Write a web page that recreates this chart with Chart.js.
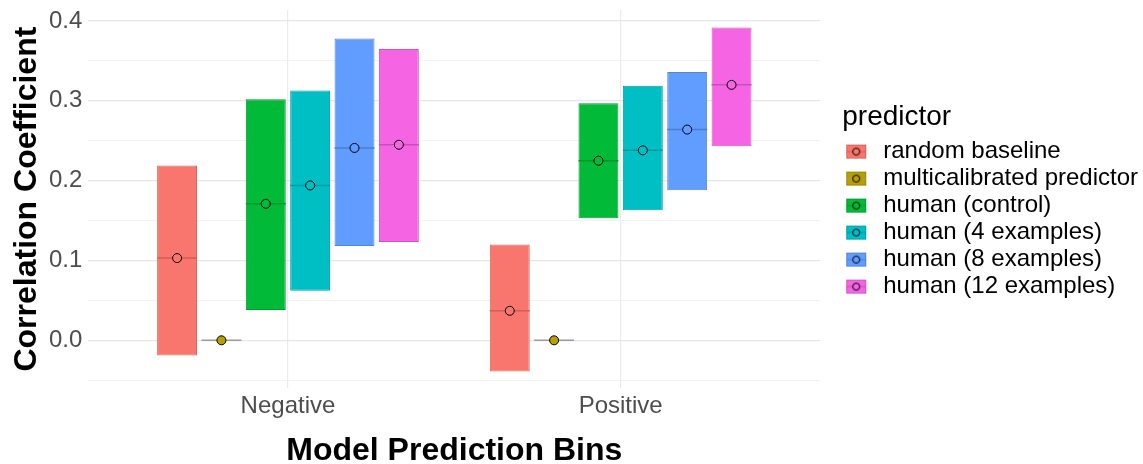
<!DOCTYPE html>
<html>
<head>
<meta charset="utf-8">
<script src="https://cdn.jsdelivr.net/npm/chart.js@4"></script>
<style>
  html, body { margin: 0; padding: 0; background: #fff; }
  #wrap { width: 1143px; height: 464px; }
</style>
</head>
<body>
<div id="wrap"><canvas id="myChart" width="1143" height="464"></canvas></div>
<script>
const categories = ['Negative', 'Positive'];
const predictors = ['random baseline', 'multicalibrated predictor', 'human (control)',
  'human (4 examples)', 'human (8 examples)', 'human (12 examples)'];

// per predictor, same order as above
const negLow  = [-0.019, 0, 0.038, 0.062, 0.118, 0.123];
const negMid  = [0.103, 0, 0.171, 0.194, 0.241, 0.245];
const negHigh = [0.219, 0, 0.302, 0.313, 0.378, 0.365];
const posLow  = [-0.039, 0, 0.153, 0.163, 0.188, 0.243];
const posMid  = [0.037, 0, 0.225, 0.238, 0.264, 0.320];
const posHigh = [0.120, 0, 0.297, 0.319, 0.336, 0.392];

const yTicks = [0.0, 0.1, 0.2, 0.3, 0.4];
const yMinorTicks = [-0.05, 0.05, 0.15, 0.25, 0.35];

const fills   = ['#F8766D', '#B79F00', '#00BA38', '#00BFC4', '#619CFF', '#F564E3'];
const borders = ['#D9635B', '#9C8700', '#009E30', '#00A2A6', '#5185DA', '#D154C2'];
const mids    = ['#CF5F58', '#9a9a9a', '#00962D', '#00999D', '#4E7ECF', '#C750B8'];

const FONT = "'Liberation Sans', Arial, Helvetica, sans-serif";
Chart.defaults.font.family = FONT;

const LEGEND_GAP = 38;   // extra room left of the legend
const LEGEND_SHIFT = 22; // how far the legend items sit right of the panel

const isMajor = (v) => yTicks.some(t => Math.abs(t - v) < 1e-6);

// little legend key: filled box + middle line + point
function legendKey(i) {
  const c = document.createElement('canvas');
  c.width = 26; c.height = 16;
  const g = c.getContext('2d');
  g.fillStyle = fills[i];
  g.fillRect(1, 1, 20, 14);
  g.strokeStyle = borders[i];
  g.lineWidth = 1;
  g.strokeRect(1.5, 1.5, 19, 13);
  g.strokeStyle = mids[i];
  g.beginPath(); g.moveTo(1, 8); g.lineTo(21, 8); g.stroke();
  g.beginPath(); g.arc(11, 8, 3.5, 0, Math.PI * 2);
  g.fillStyle = fills[i]; g.fill();
  g.strokeStyle = '#000'; g.stroke();
  return c;
}

const datasets = predictors.map((p, i) => ({
  label: p,
  data: categories.map((c, k) => ({
    x: k + 1,
    y: k === 0 ? [negLow[i], negHigh[i]] : [posLow[i], posHigh[i]]
  })),
  mid: [negMid[i], posMid[i]],
  backgroundColor: fills[i],
  borderColor: borders[i],
  borderWidth: i === 1 ? 0 : 1,
  borderSkipped: false,
  barPercentage: 0.9,
  categoryPercentage: 0.8
}));

// middle line + point of each crossbar
const crossbar = {
  id: 'crossbar',
  afterDatasetsDraw(chart) {
    const ctx = chart.ctx;
    const yScale = chart.scales.y;
    chart.data.datasets.forEach((ds, di) => {
      chart.getDatasetMeta(di).data.forEach((bar, k) => {
        const py = yScale.getPixelForValue(ds.mid[k]);
        ctx.save();
        ctx.strokeStyle = mids[di];
        ctx.lineWidth = 1.5;
        ctx.beginPath();
        ctx.moveTo(bar.x - bar.width / 2, py);
        ctx.lineTo(bar.x + bar.width / 2, py);
        ctx.stroke();
        ctx.beginPath();
        ctx.arc(bar.x, py, 4.5, 0, Math.PI * 2);
        ctx.fillStyle = fills[di];
        ctx.fill();
        ctx.strokeStyle = '#000';
        ctx.lineWidth = 1;
        ctx.stroke();
        ctx.restore();
      });
    });
  }
};

// leave some space between the panel and the legend
const legendGap = {
  id: 'legendGap',
  beforeLayout(chart) {
    const lg = chart.legend;
    if (lg && !lg._gapPatched) {
      const fit = lg.fit;
      lg.fit = function () { fit.call(this); this.width += LEGEND_GAP; };
      lg._gapPatched = true;
    }
  },
  afterLayout(chart) {
    chart.legend.left += LEGEND_SHIFT;
  }
};

const ctx = document.getElementById('myChart');
new Chart(ctx, {
  type: 'bar',
  data: { datasets: datasets },
  plugins: [crossbar, legendGap],
  options: {
    responsive: false,
    animation: false,
    layout: { padding: { left: 4, right: 0, top: 10, bottom: -3 } },
    scales: {
      x: {
        type: 'linear',
        min: 0.4,
        max: 2.6,
        offset: false,
        afterBuildTicks: (axis) => { axis.ticks = categories.map((c, k) => ({ value: k + 1 })); },
        ticks: {
          callback: (v) => categories[Math.round(v) - 1] || '',
          color: '#4D4D4D',
          font: { size: 24 },
          padding: 4,
          maxRotation: 0
        },
        grid: { color: '#ebebeb', lineWidth: 1.2, drawTicks: false, offset: false },
        border: { display: false },
        title: {
          display: true,
          text: 'Model Prediction Bins',
          color: '#000',
          font: { size: 32, weight: 'bold', lineHeight: 1 },
          padding: { top: 10, bottom: 0 }
        }
      },
      y: {
        min: -0.06,
        max: 0.4138,
        afterBuildTicks: (axis) => {
          axis.ticks = yMinorTicks.concat(yTicks).sort((a, b) => a - b).map(v => ({ value: v }));
        },
        afterFit: (axis) => { axis.paddingTop = 0; axis.paddingBottom = 0; },
        ticks: {
          callback: (v) => isMajor(v) ? v.toFixed(1) : '',
          color: '#4D4D4D',
          font: { size: 24 },
          padding: 6
        },
        grid: {
          drawTicks: false,
          color: (c) => isMajor(c.tick.value) ? '#e6e6e6' : '#f0f0f0',
          lineWidth: (c) => isMajor(c.tick.value) ? 1.2 : 0.9
        },
        border: { display: false },
        title: {
          display: true,
          text: 'Correlation Coefficient',
          color: '#000',
          font: { size: 32, weight: 'bold', lineHeight: 1 },
          padding: { top: 7, bottom: 0 }
        }
      }
    },
    plugins: {
      tooltip: { enabled: false },
      legend: {
        position: 'right',
        align: 'start',
        title: {
          display: true,
          text: 'predictor',
          color: '#000',
          position: 'start',
          font: { size: 28 },
          padding: { top: 93, bottom: 0 }
        },
        labels: {
          color: '#000',
          font: { size: 24 },
          usePointStyle: true,
          boxWidth: 26,
          boxHeight: 16,
          pointStyleWidth: 26,
          padding: 3,
          generateLabels: (chart) => predictors.map((p, i) => ({
            text: p,
            pointStyle: legendKey(i),
            fillStyle: fills[i],
            strokeStyle: borders[i],
            lineWidth: 0,
            hidden: false,
            datasetIndex: i
          }))
        }
      }
    }
  }
});
</script>
</body>
</html>
